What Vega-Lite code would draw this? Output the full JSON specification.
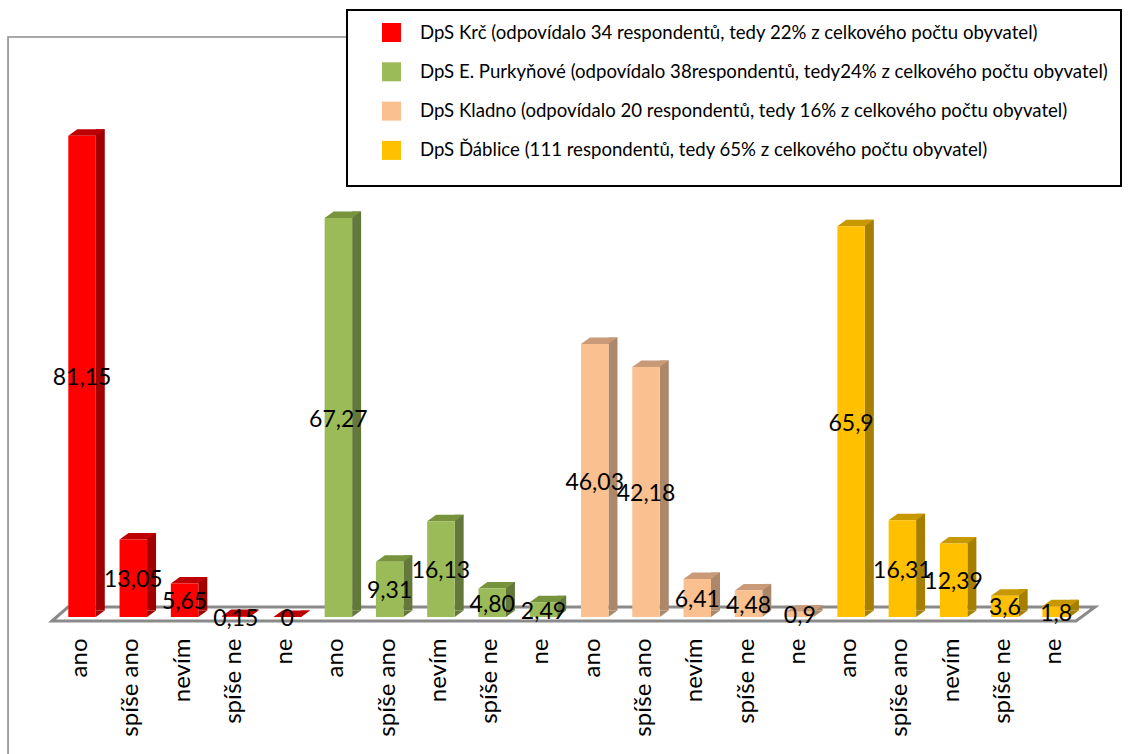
{
  "$schema": "https://vega.github.io/schema/vega-lite/v6.json",
  "width": 1129,
  "height": 617,
  "padding": {"left": 0, "top": 0, "right": 0, "bottom": 137},
  "autosize": "none",
  "background": "white",
  "view": {"stroke": null},
  "config": {"font": "Lato"},
  "data": {"values": [
    {"key": "Krč|ano", "group": "DpS Krč (odpovídalo 34 respondentů, tedy 22% z celkového počtu obyvatel)", "value": 81.15, "label": "81,15"},
    {"key": "Krč|spíše ano", "group": "DpS Krč (odpovídalo 34 respondentů, tedy 22% z celkového počtu obyvatel)", "value": 13.05, "label": "13,05"},
    {"key": "Krč|nevím", "group": "DpS Krč (odpovídalo 34 respondentů, tedy 22% z celkového počtu obyvatel)", "value": 5.65, "label": "5,65"},
    {"key": "Krč|spíše ne", "group": "DpS Krč (odpovídalo 34 respondentů, tedy 22% z celkového počtu obyvatel)", "value": 0.15, "label": "0,15"},
    {"key": "Krč|ne", "group": "DpS Krč (odpovídalo 34 respondentů, tedy 22% z celkového počtu obyvatel)", "value": 0, "label": "0"},
    {"key": "Purkyňové|ano", "group": "DpS E. Purkyňové (odpovídalo 38respondentů, tedy24% z celkového počtu obyvatel)", "value": 67.27, "label": "67,27"},
    {"key": "Purkyňové|spíše ano", "group": "DpS E. Purkyňové (odpovídalo 38respondentů, tedy24% z celkového počtu obyvatel)", "value": 9.31, "label": "9,31"},
    {"key": "Purkyňové|nevím", "group": "DpS E. Purkyňové (odpovídalo 38respondentů, tedy24% z celkového počtu obyvatel)", "value": 16.13, "label": "16,13"},
    {"key": "Purkyňové|spíše ne", "group": "DpS E. Purkyňové (odpovídalo 38respondentů, tedy24% z celkového počtu obyvatel)", "value": 4.8, "label": "4,80"},
    {"key": "Purkyňové|ne", "group": "DpS E. Purkyňové (odpovídalo 38respondentů, tedy24% z celkového počtu obyvatel)", "value": 2.49, "label": "2,49"},
    {"key": "Kladno|ano", "group": "DpS Kladno (odpovídalo 20 respondentů, tedy 16% z celkového počtu obyvatel)", "value": 46.03, "label": "46,03"},
    {"key": "Kladno|spíše ano", "group": "DpS Kladno (odpovídalo 20 respondentů, tedy 16% z celkového počtu obyvatel)", "value": 42.18, "label": "42,18"},
    {"key": "Kladno|nevím", "group": "DpS Kladno (odpovídalo 20 respondentů, tedy 16% z celkového počtu obyvatel)", "value": 6.41, "label": "6,41"},
    {"key": "Kladno|spíše ne", "group": "DpS Kladno (odpovídalo 20 respondentů, tedy 16% z celkového počtu obyvatel)", "value": 4.48, "label": "4,48"},
    {"key": "Kladno|ne", "group": "DpS Kladno (odpovídalo 20 respondentů, tedy 16% z celkového počtu obyvatel)", "value": 0.9, "label": "0,9"},
    {"key": "Ďáblice|ano", "group": "DpS Ďáblice (111 respondentů, tedy 65% z celkového počtu obyvatel)", "value": 65.9, "label": "65,9"},
    {"key": "Ďáblice|spíše ano", "group": "DpS Ďáblice (111 respondentů, tedy 65% z celkového počtu obyvatel)", "value": 16.31, "label": "16,31"},
    {"key": "Ďáblice|nevím", "group": "DpS Ďáblice (111 respondentů, tedy 65% z celkového počtu obyvatel)", "value": 12.39, "label": "12,39"},
    {"key": "Ďáblice|spíše ne", "group": "DpS Ďáblice (111 respondentů, tedy 65% z celkového počtu obyvatel)", "value": 3.6, "label": "3,6"},
    {"key": "Ďáblice|ne", "group": "DpS Ďáblice (111 respondentů, tedy 65% z celkového počtu obyvatel)", "value": 1.8, "label": "1,8"}
  ]},
  "transform": [{"calculate": "datum.value / 2", "as": "mid"}],
  "encoding": {
    "x": {
      "field": "key",
      "type": "nominal",
      "sort": null,
      "title": null,
      "scale": {"range": [56.4, 1081.8], "paddingInner": 0, "paddingOuter": 0},
      "axis": {
        "labelExpr": "split(datum.label, '|')[1]",
        "labelAngle": 270,
        "labelAlign": "right",
        "labelBaseline": "middle",
        "labelPadding": 21,
        "labelFontSize": 24,
        "labelFont": "Lato",
        "labelColor": "black",
        "labelOverlap": false,
        "labelLimit": 0,
        "labelOffset": -2,
        "domain": false,
        "ticks": false,
        "grid": false
      }
    },
    "y": {
      "type": "quantitative",
      "title": null,
      "scale": {"domain": [0, 104.05], "nice": false},
      "axis": null
    }
  },
  "layer": [
    {
      "mark": {"type": "point", "shape": "M-74,140L-74,-580L270,-580", "size": 4, "filled": false, "stroke": "#8c8c8c", "strokeWidth": 1.6, "opacity": 1},
      "transform": [{"filter": "datum.key === 'Krč|ano'"}],
      "encoding": {"y": {"datum": 0, "type": "quantitative"}}
    },
    {
      "mark": {"type": "point", "shape": "M-30,4L-14,-10L1013,-10L994,4Z", "size": 4, "filled": false, "stroke": "#8a8a8a", "strokeWidth": 3, "opacity": 1},
      "transform": [{"filter": "datum.key === 'Krč|ano'"}],
      "encoding": {"y": {"datum": 0, "type": "quantitative"}}
    },
    {
      "mark": {"type": "bar", "size": 9, "xOffset": 18.25, "x2Offset": 18.25, "yOffset": -6.5, "y2Offset": -6.5},
      "encoding": {
        "y": {"field": "value", "type": "quantitative"},
        "color": {
          "field": "group", "type": "nominal", "sort": null, "legend": null,
          "scale": {"range": ["#a00000", "#65783c", "#ad8769", "#a67f00"]}
        }
      }
    },
    {
      "mark": {"type": "point", "shape": "M13.75,0L13.75,-6.5L22.75,-6.5Z", "size": 4, "filled": true, "opacity": 1},
      "encoding": {
        "y": {"datum": 0, "type": "quantitative"},
        "color": {
          "field": "group", "type": "nominal", "sort": null, "legend": null,
          "scale": {"range": ["#a00000", "#65783c", "#ad8769", "#a67f00"]}
        }
      }
    },
    {
      "mark": {"type": "point", "shape": "M-13.75,0L-4.75,-6.5L22.75,-6.5L13.75,0Z", "size": 4, "filled": true, "opacity": 1},
      "encoding": {
        "y": {"field": "value", "type": "quantitative"},
        "color": {
          "field": "group", "type": "nominal", "sort": null, "legend": null,
          "scale": {"range": ["#bf0000", "#77933c", "#c89a78", "#c79800"]}
        }
      }
    },
    {
      "mark": {"type": "bar", "size": 27.5},
      "encoding": {
        "y": {"field": "value", "type": "quantitative"},
        "color": {
          "field": "group", "type": "nominal", "sort": null,
          "scale": {"range": ["#ff0000", "#9bbb59", "#fac090", "#ffc000"]},
          "legend": {
            "title": " ",
            "titleOrient": "bottom",
            "titleFontSize": 8,
            "orient": "none",
            "legendX": 347,
            "legendY": 10,
            "padding": 13,
            "fillColor": "white",
            "strokeColor": "black",
            "symbolType": "square",
            "symbolSize": 361,
            "symbolStrokeWidth": 0,
            "symbolOffset": 22,
            "labelOffset": 19,
            "labelFont": "Lato",
            "labelFontSize": 18.6,
            "labelColor": "black",
            "labelLimit": 0,
            "rowPadding": 19.3,
            "labelExpr": "datum.label + '\u00a0\u00a0\u00a0\u00a0\u00a0\u00a0\u00a0\u00a0\u00a0\u00a0'",
            "encode": {"legend": {"update": {"strokeWidth": {"value": 2}}}}
          }
        }
      }
    },
    {
      "mark": {"type": "text", "font": "Lato", "fontSize": 23, "color": "black", "dy": 2},
      "encoding": {
        "y": {"field": "mid", "type": "quantitative"},
        "text": {"field": "label", "type": "nominal"}
      }
    }
  ],
  "resolve": {"scale": {"color": "independent"}}
}
